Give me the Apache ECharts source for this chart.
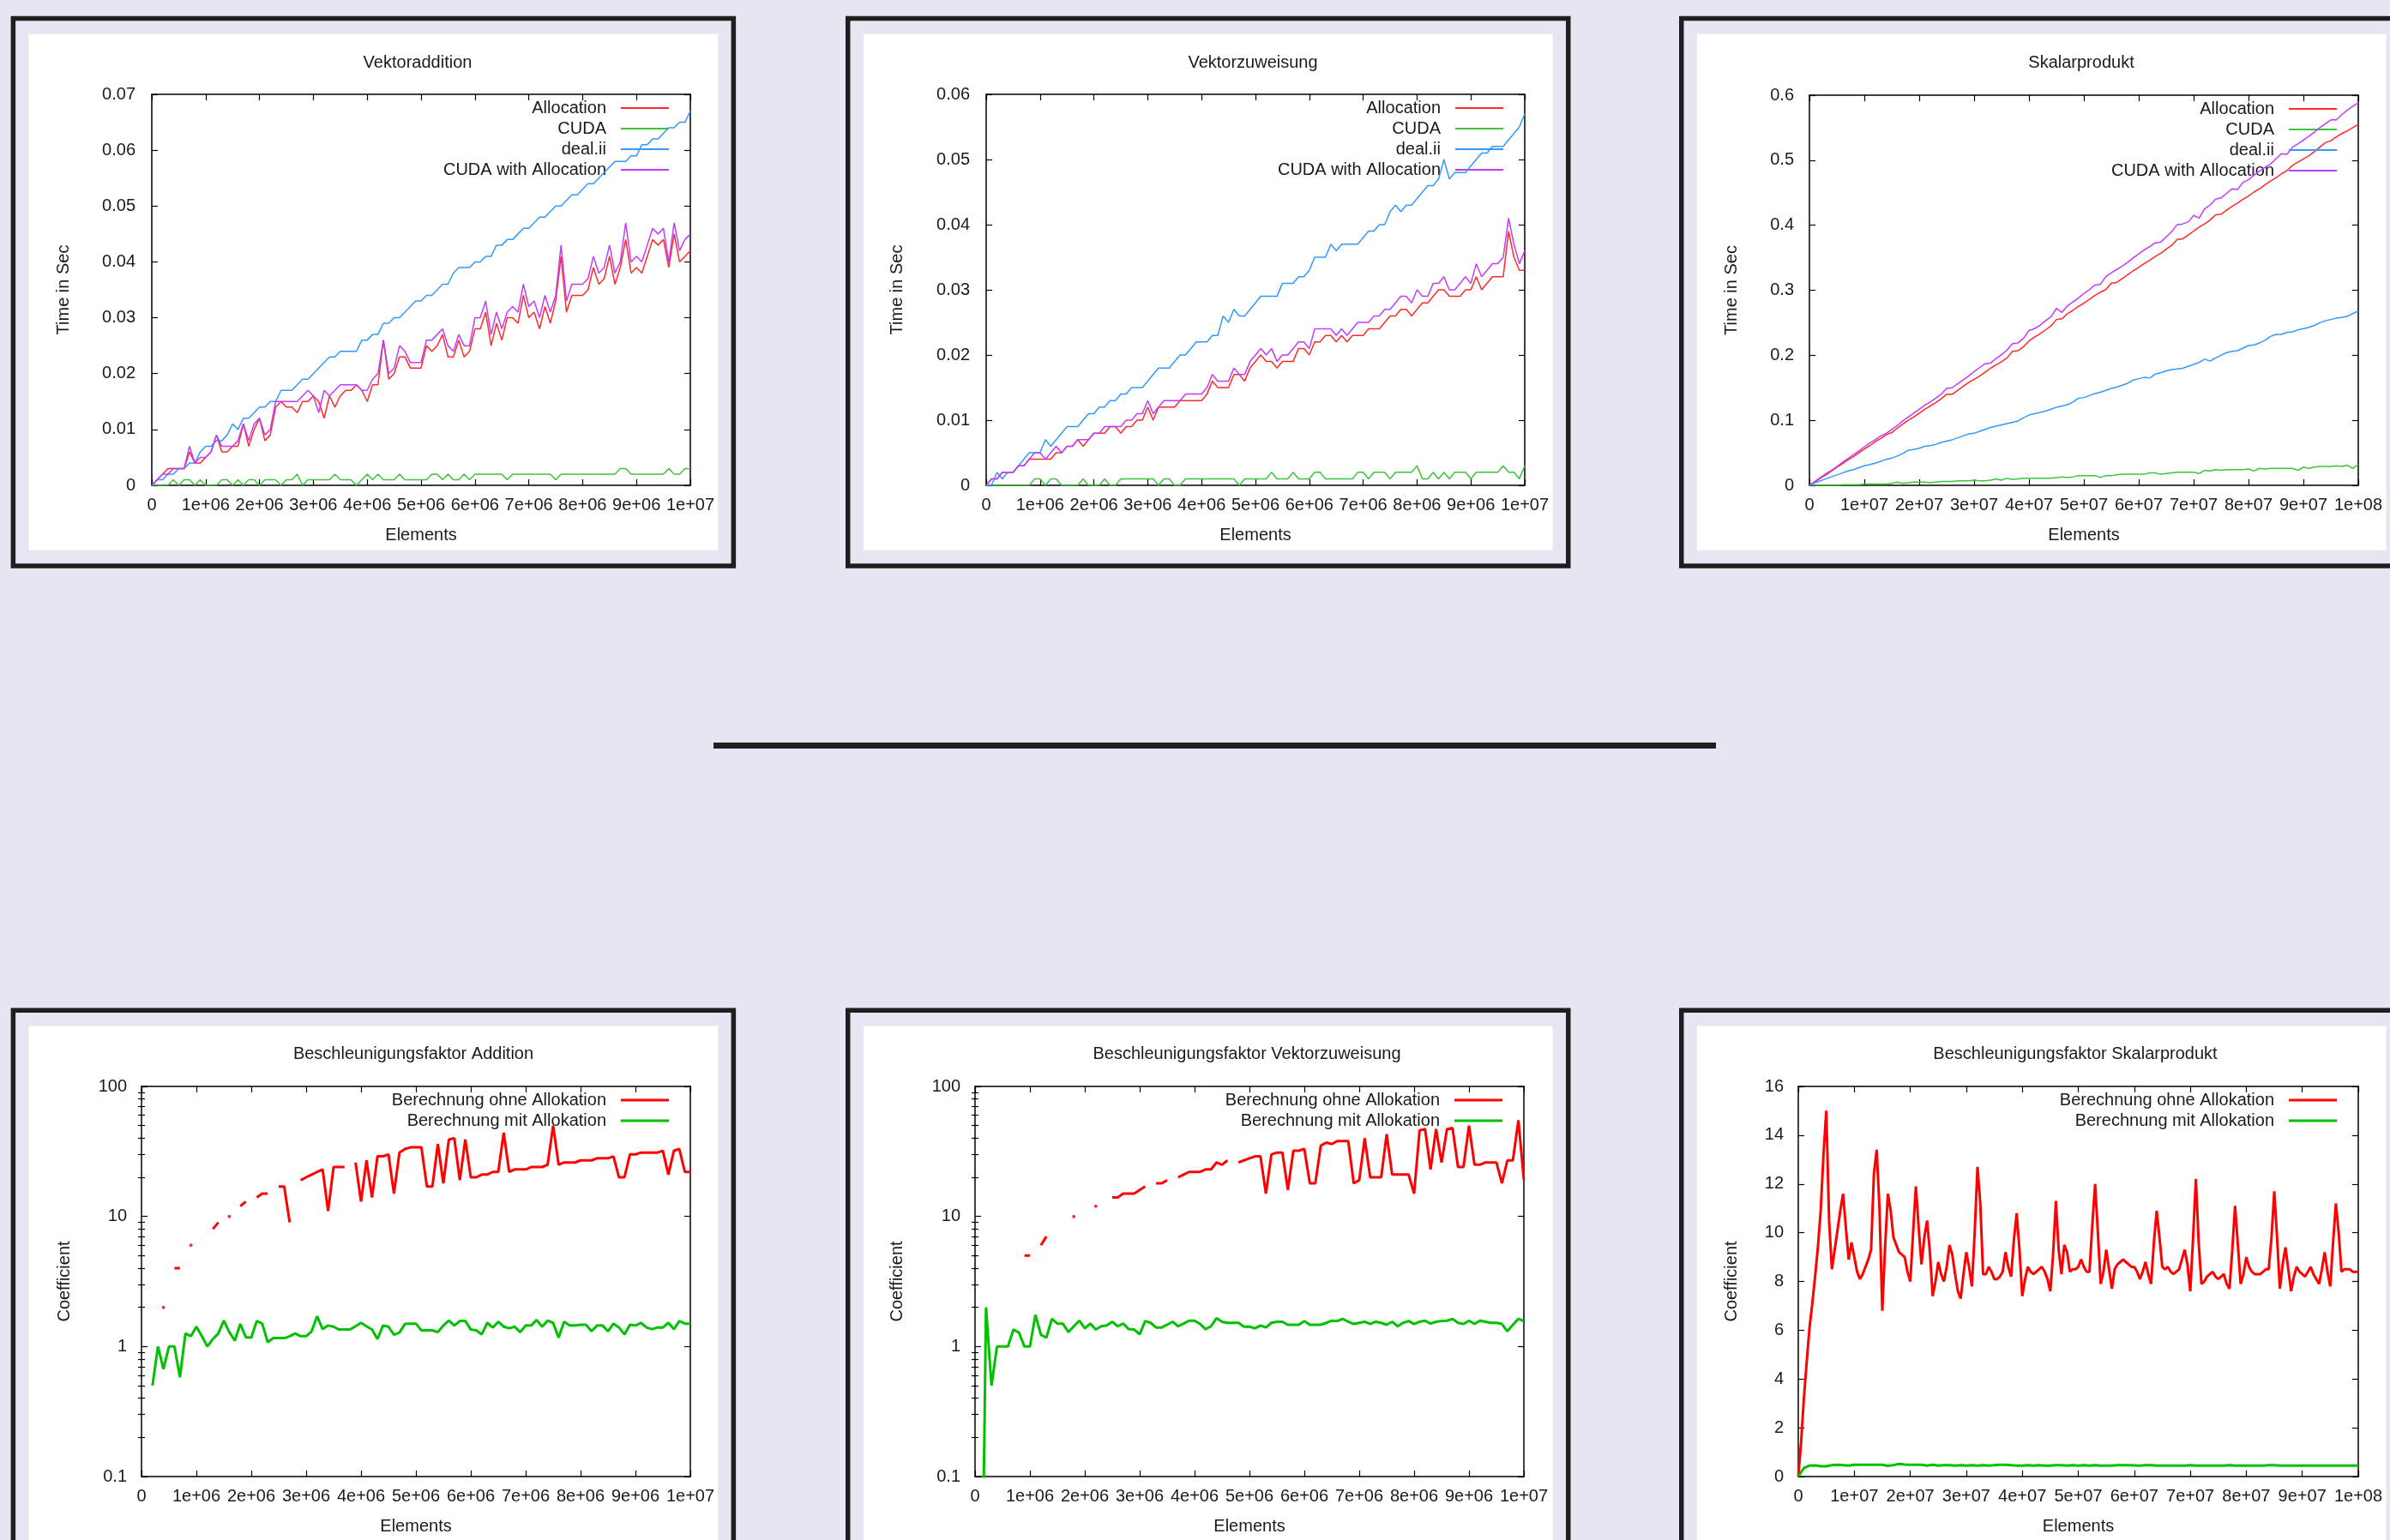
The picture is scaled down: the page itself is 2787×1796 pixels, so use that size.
<!DOCTYPE html>
<html>
<head>
<meta charset="utf-8">
<style>
html,body{margin:0;padding:0;background:#e6e6f2;}
#c{width:2787px;height:1796px;}
</style>
<script src="https://cdn.jsdelivr.net/npm/echarts@6/dist/echarts.min.js"></script>
</head>
<body>
<div id="c"></div>
<script>
// ---------------- DATA ----------------
const chartTitles = ['Vektoraddition', 'Vektorzuweisung', 'Skalarprodukt',
  'Beschleunigungsfaktor Addition', 'Beschleunigungsfaktor Vektorzuweisung', 'Beschleunigungsfaktor Skalarprodukt'];
const timeSeriesNames = ['Allocation', 'CUDA', 'deal.ii', 'CUDA with Allocation'];
const speedSeriesNames = ['Berechnung ohne Allokation', 'Berechnung mit Allokation'];
const xTickLabelsE6 = ['0', '1e+06', '2e+06', '3e+06', '4e+06', '5e+06', '6e+06', '7e+06', '8e+06', '9e+06', '1e+07'];
const xTickLabelsE7 = ['0', '1e+07', '2e+07', '3e+07', '4e+07', '5e+07', '6e+07', '7e+07', '8e+07', '9e+07', '1e+08'];

// Vektoraddition (seconds), elements 0..1e7 step 1e5
const addAllocation = [0,0.001,0.002,0.003,0.003,0.003,0.003,0.006,0.004,0.004,0.005,
 0.006,0.009,0.006,0.006,0.007,0.007,0.011,0.007,0.010,0.012,
 0.008,0.009,0.014,0.015,0.014,0.014,0.013,0.015,0.015,0.016,
 0.015,0.012,0.016,0.014,0.016,0.017,0.017,0.018,0.017,0.015,
 0.018,0.018,0.026,0.019,0.020,0.023,0.023,0.021,0.021,0.021,
 0.025,0.024,0.025,0.027,0.023,0.023,0.026,0.023,0.024,0.028,
 0.028,0.031,0.025,0.029,0.026,0.030,0.030,0.029,0.034,0.030,
 0.031,0.028,0.032,0.029,0.033,0.041,0.031,0.034,0.034,0.034,
 0.035,0.039,0.036,0.037,0.041,0.036,0.039,0.044,0.038,0.039,
 0.038,0.041,0.044,0.043,0.044,0.039,0.045,0.040,0.041,0.042];
const addCuda = [0,0,0,0,0.001,0,0.001,0.001,0,0.001,0,
 0,0,0.001,0.001,0,0.001,0,0.001,0.001,0,
 0.001,0.001,0.001,0,0.001,0.001,0.002,0,0.001,0.001,
 0.001,0.001,0.001,0.002,0.001,0.001,0.001,0,0.001,0.002,
 0.001,0.002,0.001,0.001,0.001,0.002,0.001,0.001,0.001,0.001,
 0.001,0.002,0.002,0.001,0.002,0.001,0.001,0.002,0.001,0.002,
 0.002,0.002,0.002,0.002,0.002,0.001,0.002,0.002,0.002,0.002,
 0.002,0.002,0.002,0.002,0.001,0.002,0.002,0.002,0.002,0.002,
 0.002,0.002,0.002,0.002,0.002,0.002,0.003,0.003,0.002,0.002,
 0.002,0.002,0.002,0.002,0.002,0.003,0.002,0.002,0.003,0.003];
const addDealii = [0,0.001,0.001,0.002,0.002,0.003,0.003,0.004,0.004,0.006,0.007,
 0.007,0.008,0.008,0.009,0.011,0.010,0.012,0.012,0.013,0.014,
 0.014,0.015,0.015,0.017,0.017,0.017,0.018,0.019,0.019,0.020,
 0.021,0.022,0.023,0.023,0.024,0.024,0.024,0.024,0.026,0.026,
 0.027,0.027,0.029,0.029,0.030,0.030,0.031,0.032,0.033,0.033,
 0.034,0.034,0.035,0.036,0.036,0.038,0.039,0.039,0.039,0.040,
 0.040,0.041,0.041,0.043,0.043,0.044,0.044,0.045,0.046,0.046,
 0.047,0.048,0.048,0.049,0.050,0.050,0.051,0.052,0.052,0.053,
 0.054,0.054,0.055,0.056,0.057,0.058,0.058,0.058,0.059,0.059,
 0.061,0.061,0.062,0.062,0.063,0.064,0.064,0.065,0.065,0.067];
const addCudaAlloc = [0,0.001,0.002,0.002,0.003,0.003,0.003,0.007,0.004,0.005,0.005,
 0.006,0.009,0.007,0.007,0.007,0.008,0.011,0.008,0.011,0.012,
 0.009,0.010,0.015,0.015,0.015,0.015,0.015,0.016,0.017,0.016,
 0.013,0.017,0.016,0.017,0.018,0.018,0.018,0.018,0.017,0.017,
 0.019,0.020,0.026,0.020,0.021,0.025,0.024,0.022,0.022,0.022,
 0.026,0.026,0.027,0.028,0.025,0.024,0.027,0.025,0.025,0.030,
 0.030,0.033,0.027,0.031,0.028,0.031,0.032,0.031,0.036,0.032,
 0.033,0.030,0.034,0.031,0.034,0.043,0.033,0.036,0.036,0.036,
 0.037,0.041,0.038,0.039,0.043,0.038,0.040,0.047,0.040,0.041,
 0.040,0.043,0.046,0.045,0.046,0.040,0.047,0.042,0.044,0.045];

// Vektorzuweisung (seconds), elements 0..1e7 step 1e5
const assignAllocation = [0,0.001,0.001,0.002,0.002,0.002,0.003,0.003,0.004,0.004,0.004,
 0.004,0.004,0.005,0.005,0.006,0.006,0.007,0.006,0.007,0.008,
 0.008,0.008,0.009,0.009,0.008,0.009,0.009,0.010,0.010,0.012,
 0.010,0.012,0.012,0.012,0.012,0.013,0.013,0.013,0.013,0.013,
 0.014,0.016,0.015,0.015,0.015,0.017,0.017,0.016,0.018,0.019,
 0.020,0.019,0.019,0.018,0.019,0.019,0.019,0.021,0.021,0.020,
 0.022,0.022,0.023,0.023,0.022,0.023,0.022,0.023,0.023,0.023,
 0.024,0.024,0.024,0.025,0.026,0.026,0.027,0.027,0.026,0.027,
 0.028,0.028,0.029,0.030,0.030,0.029,0.029,0.029,0.030,0.030,
 0.032,0.030,0.031,0.032,0.032,0.032,0.039,0.035,0.033,0.033];
const assignCuda = [0,0,0,0,0,0,0,0,0,0.001,0.001,
 0,0.001,0.001,0,0,0,0,0.001,0,0,
 0,0.001,0,0,0.001,0.001,0.001,0.001,0.001,0.001,
 0.001,0,0.001,0.001,0,0,0.001,0.001,0.001,0.001,
 0.001,0.001,0.001,0.001,0.001,0.001,0,0.001,0.001,0.001,
 0.001,0.001,0.002,0.001,0.001,0.001,0.002,0.001,0.001,0.001,
 0.002,0.002,0.001,0.001,0.001,0.001,0.001,0.001,0.002,0.002,
 0.001,0.002,0.002,0.002,0.001,0.002,0.002,0.002,0.002,0.003,
 0.001,0.001,0.002,0.001,0.002,0.001,0.002,0.002,0.002,0.001,
 0.002,0.002,0.002,0.002,0.002,0.003,0.002,0.002,0.001,0.003];
const assignDealii = [0,0,0.002,0.001,0.002,0.002,0.003,0.004,0.005,0.005,0.005,
 0.007,0.006,0.007,0.008,0.009,0.009,0.009,0.010,0.011,0.011,
 0.012,0.012,0.013,0.013,0.014,0.014,0.015,0.015,0.015,0.016,
 0.017,0.018,0.018,0.018,0.019,0.020,0.020,0.021,0.022,0.022,
 0.022,0.023,0.023,0.026,0.025,0.027,0.026,0.026,0.027,0.028,
 0.029,0.029,0.029,0.029,0.031,0.031,0.031,0.032,0.032,0.033,
 0.035,0.035,0.035,0.037,0.036,0.037,0.037,0.037,0.037,0.038,
 0.039,0.039,0.040,0.040,0.042,0.043,0.042,0.043,0.043,0.044,
 0.045,0.046,0.046,0.047,0.050,0.047,0.048,0.048,0.048,0.049,
 0.050,0.051,0.051,0.052,0.052,0.052,0.053,0.054,0.055,0.057];
const assignCudaAlloc = [0,0.001,0.001,0.002,0.002,0.002,0.003,0.003,0.004,0.005,0.005,
 0.004,0.005,0.006,0.005,0.006,0.006,0.007,0.007,0.007,0.008,
 0.008,0.009,0.009,0.009,0.009,0.010,0.010,0.011,0.011,0.013,
 0.011,0.012,0.013,0.013,0.013,0.013,0.014,0.014,0.014,0.014,
 0.015,0.017,0.016,0.016,0.016,0.018,0.017,0.017,0.019,0.020,
 0.021,0.020,0.021,0.019,0.020,0.020,0.021,0.022,0.022,0.021,
 0.024,0.024,0.024,0.024,0.023,0.024,0.023,0.024,0.025,0.025,
 0.025,0.026,0.026,0.027,0.027,0.028,0.029,0.029,0.028,0.030,
 0.029,0.029,0.031,0.031,0.032,0.030,0.030,0.031,0.032,0.031,
 0.034,0.032,0.033,0.034,0.034,0.035,0.041,0.037,0.034,0.036];

// Skalarprodukt (seconds), elements 0..1e8 step 1e6
const dotAllocation = [0,0.005,0.011,0.016,0.022,0.028,0.033,0.039,0.044,0.050,0.056,
 0.061,0.067,0.072,0.078,0.081,0.088,0.094,0.100,0.105,0.111,
 0.117,0.122,0.127,0.133,0.140,0.140,0.146,0.152,0.158,0.163,
 0.168,0.174,0.180,0.185,0.190,0.196,0.206,0.207,0.213,0.222,
 0.228,0.233,0.239,0.245,0.255,0.256,0.264,0.269,0.275,0.280,
 0.286,0.292,0.297,0.301,0.311,0.312,0.318,0.324,0.330,0.335,
 0.341,0.346,0.352,0.357,0.363,0.369,0.378,0.379,0.385,0.391,
 0.397,0.402,0.408,0.416,0.417,0.423,0.429,0.434,0.440,0.445,
 0.451,0.456,0.462,0.468,0.473,0.479,0.484,0.492,0.497,0.502,
 0.507,0.513,0.520,0.527,0.530,0.536,0.541,0.545,0.550,0.555];
const dotCuda = [0,0,0,0,0,0,0.001,0.001,0.001,0.001,0.002,
 0.002,0.002,0.002,0.002,0.003,0.005,0.003,0.004,0.005,0.005,
 0.005,0.004,0.005,0.006,0.006,0.006,0.007,0.007,0.007,0.008,
 0.007,0.007,0.008,0.010,0.008,0.011,0.009,0.010,0.011,0.011,
 0.011,0.011,0.011,0.011,0.012,0.013,0.012,0.013,0.015,0.015,
 0.015,0.015,0.012,0.015,0.015,0.016,0.017,0.017,0.017,0.017,
 0.017,0.019,0.019,0.017,0.018,0.019,0.020,0.020,0.020,0.020,
 0.018,0.023,0.022,0.024,0.023,0.024,0.024,0.024,0.024,0.025,
 0.022,0.026,0.025,0.026,0.026,0.026,0.026,0.026,0.023,0.028,
 0.026,0.028,0.029,0.029,0.029,0.030,0.029,0.031,0.026,0.032];
const dotDealii = [0,0.004,0.007,0.010,0.013,0.016,0.019,0.022,0.024,0.027,0.030,
 0.032,0.034,0.037,0.040,0.042,0.045,0.049,0.054,0.055,0.057,
 0.060,0.061,0.063,0.066,0.068,0.070,0.073,0.076,0.079,0.080,
 0.083,0.086,0.089,0.091,0.093,0.095,0.097,0.099,0.104,0.108,
 0.110,0.112,0.114,0.117,0.120,0.122,0.124,0.128,0.134,0.135,
 0.138,0.141,0.143,0.146,0.149,0.151,0.154,0.157,0.162,0.164,
 0.166,0.165,0.171,0.173,0.176,0.178,0.179,0.180,0.183,0.186,
 0.189,0.194,0.191,0.196,0.200,0.204,0.206,0.207,0.211,0.215,
 0.216,0.219,0.223,0.229,0.232,0.232,0.235,0.236,0.239,0.241,
 0.243,0.246,0.250,0.253,0.255,0.257,0.258,0.260,0.264,0.268];
const dotCudaAlloc = [0,0.006,0.012,0.018,0.023,0.029,0.035,0.041,0.047,0.053,0.059,
 0.065,0.070,0.076,0.080,0.086,0.092,0.099,0.105,0.111,0.117,
 0.123,0.128,0.134,0.140,0.149,0.150,0.156,0.162,0.168,0.175,
 0.181,0.187,0.188,0.195,0.201,0.208,0.218,0.219,0.226,0.238,
 0.241,0.246,0.253,0.259,0.272,0.266,0.276,0.282,0.288,0.295,
 0.301,0.308,0.309,0.321,0.327,0.332,0.337,0.343,0.350,0.356,
 0.362,0.367,0.373,0.374,0.382,0.390,0.401,0.402,0.405,0.415,
 0.411,0.425,0.431,0.440,0.442,0.449,0.456,0.455,0.466,0.470,
 0.477,0.483,0.489,0.494,0.502,0.510,0.509,0.520,0.525,0.531,
 0.537,0.543,0.550,0.556,0.562,0.562,0.570,0.577,0.583,0.588];

// Beschleunigungsfaktor Addition, elements 0..1e7 step 1e5 (null = undefined ratio)
const speedAddOhne = [null,null,null,null,2,null,4,4,null,6,null,
 null,null,8,9,null,10,null,12,13,null,
 14,15,15,null,17,17,9,null,19,20,
 21,22,23,11,24,24,24,null,26,13,
 27,14,29,29,30,15,31,33,34,34,
 34,17,17,36,18,39,40,19,39,20,
 20,21,21,22,22,44,22,23,23,23,
 24,24,24,25,50,25,26,26,26,27,
 27,27,28,28,28,29,20,20,30,30,
 31,31,31,31,32,21,32,33,22,22];
const speedAddMit = [null,null,0.5,1.0,0.67,1.0,1.0,0.58,1.26,1.2,1.42,
 1.2,1.0,1.14,1.26,1.58,1.29,1.11,1.49,1.18,1.17,
 1.57,1.5,1.08,1.16,1.16,1.16,1.2,1.26,1.2,1.2,
 1.31,1.71,1.36,1.45,1.42,1.35,1.35,1.35,1.43,1.52,
 1.43,1.35,1.14,1.45,1.42,1.23,1.28,1.49,1.5,1.5,
 1.33,1.33,1.33,1.29,1.45,1.58,1.45,1.57,1.57,1.35,
 1.33,1.24,1.52,1.4,1.55,1.42,1.38,1.42,1.29,1.45,
 1.45,1.6,1.42,1.58,1.52,1.17,1.55,1.45,1.45,1.47,
 1.47,1.31,1.45,1.45,1.31,1.5,1.4,1.24,1.47,1.45,
 1.52,1.4,1.36,1.4,1.4,1.52,1.36,1.57,1.5,1.5];

// Beschleunigungsfaktor Vektorzuweisung, elements 0..1e7 step 1e5
const speedAssignOhne = [null,null,null,null,null,null,null,null,null,5,5,
 null,6,7,null,null,null,null,10,null,null,
 null,12,null,null,14,14,15,15,15,16,
 17,null,18,18,19,null,20,21,22,22,
 22,23,23,26,25,27,null,26,27,28,
 29,29,15,30,31,31,16,32,32,33,
 18,18,35,37,36,38,38,38,18,19,
 40,20,20,20,43,21,21,21,21,15,
 46,47,23,47,26,47,48,24,24,50,
 25,25,26,26,26,18,27,27,55,19];
const speedAssignMit = [null,0.001,2.0,0.5,1.0,1.0,1.0,1.35,1.28,1.0,1.0,
 1.75,1.23,1.17,1.63,1.5,1.5,1.29,1.43,1.58,1.38,
 1.5,1.35,1.43,1.45,1.55,1.43,1.5,1.36,1.35,1.24,
 1.57,1.52,1.4,1.4,1.47,1.55,1.43,1.5,1.58,1.58,
 1.49,1.36,1.43,1.65,1.55,1.52,1.52,1.52,1.42,1.42,
 1.38,1.45,1.4,1.52,1.55,1.55,1.47,1.47,1.47,1.57,
 1.47,1.47,1.47,1.52,1.58,1.57,1.63,1.55,1.49,1.52,
 1.55,1.49,1.55,1.52,1.47,1.55,1.43,1.52,1.57,1.49,
 1.55,1.58,1.5,1.55,1.57,1.58,1.63,1.52,1.49,1.58,
 1.49,1.58,1.55,1.52,1.52,1.49,1.31,1.47,1.63,1.57];

// Beschleunigungsfaktor Skalarprodukt: ohne (step 5e5), mit (step 1e6)
const speedDotOhne = [0,1.4,3.2,4.7,6.1,7.1,8.2,9.4,10.9,13.2,15.0,
 10.5,8.5,9.3,10.1,10.9,11.6,10.2,8.9,9.6,9.0,
 8.4,8.1,8.3,8.6,8.9,9.3,12.4,13.4,11.0,6.8,
 9.4,11.6,10.9,9.8,9.5,9.2,9.1,9.0,8.4,8.0,
 10.0,11.9,10.2,8.7,9.8,10.5,9.2,7.4,8.0,8.8,
 8.3,8.0,8.6,9.5,9.1,8.3,7.6,7.3,8.3,9.2,
 8.6,7.8,10.0,12.7,11.2,8.3,8.3,8.6,8.4,8.1,
 8.1,8.2,8.4,9.2,8.6,8.2,9.7,10.8,9.3,7.4,
 8.1,8.6,8.4,8.3,8.4,8.5,8.6,8.4,8.1,7.6,
 9.1,11.3,9.3,8.3,9.5,9.2,8.4,8.5,8.5,8.6,
 8.9,8.6,8.4,8.4,10.3,12.0,10.0,7.9,8.4,9.3,
 8.5,7.7,8.5,8.7,8.8,8.9,8.8,8.7,8.6,8.6,
 8.4,8.1,8.4,8.8,8.3,7.9,9.6,10.9,9.8,8.6,
 8.5,8.6,8.4,8.3,8.4,8.5,8.9,9.3,8.7,7.6,
 9.8,12.2,9.6,7.9,8.0,8.2,8.3,8.4,8.2,8.1,
 8.2,8.3,7.9,7.7,9.3,11.1,9.5,7.9,8.3,9.0,
 8.6,8.4,8.3,8.3,8.3,8.4,8.5,8.5,9.8,11.7,
 9.8,7.7,8.7,9.4,8.5,7.6,8.2,8.6,8.4,8.3,
 8.2,8.4,8.6,8.3,8.1,7.9,8.5,9.2,8.4,7.8,
 9.6,11.2,10.0,8.4,8.5,8.5,8.5,8.4,8.4,8.4];
const speedDotMit = [0,0.35,0.45,0.46,0.42,0.42,0.47,0.48,0.47,0.45,0.48,
 0.48,0.48,0.48,0.48,0.48,0.44,0.47,0.52,0.49,0.48,
 0.48,0.48,0.45,0.48,0.45,0.47,0.47,0.45,0.47,0.45,
 0.47,0.45,0.47,0.45,0.47,0.48,0.48,0.47,0.45,0.45,
 0.47,0.45,0.47,0.45,0.45,0.47,0.47,0.45,0.47,0.45,
 0.47,0.45,0.47,0.45,0.45,0.45,0.47,0.47,0.47,0.46,
 0.45,0.47,0.47,0.45,0.45,0.45,0.45,0.45,0.45,0.47,
 0.45,0.45,0.45,0.45,0.45,0.45,0.47,0.45,0.45,0.45,
 0.45,0.45,0.45,0.47,0.47,0.45,0.45,0.45,0.45,0.45,
 0.45,0.45,0.45,0.45,0.45,0.45,0.45,0.45,0.45,0.45];

// ---------------- LAYOUT / STYLE ----------------
const W = 2787, H = 1796;
const FONT = "'Liberation Sans', Arial, Helvetica, sans-serif";
const TXT = '#1a1a1a';
const timeColors = ['#ff2a2a', '#3cc43c', '#3399ff', '#c13cff'];
const speedColors = ['#ff0000', '#00c000'];

const panels = [
  {grid:{left:177, top:110, width:628, height:456}, titleX:487, titleY:62, nameGap:93, labelMargin:19,
   title:chartTitles[0], kind:'time', xMax:1e7, xLabels:xTickLabelsE6, yMax:0.07, yStep:0.01, yName:'Time in Sec',
   series:[[addAllocation,1e5],[addCuda,1e5],[addDealii,1e5],[addCudaAlloc,1e5]]},
  {grid:{left:1150, top:110, width:628, height:456}, titleX:1461, titleY:62, nameGap:94, labelMargin:19,
   title:chartTitles[1], kind:'time', xMax:1e7, xLabels:xTickLabelsE6, yMax:0.06, yStep:0.01, yName:'Time in Sec',
   series:[[assignAllocation,1e5],[assignCuda,1e5],[assignDealii,1e5],[assignCudaAlloc,1e5]]},
  {grid:{left:2110, top:111, width:640, height:455}, titleX:2427, titleY:62, nameGap:81, labelMargin:18,
   title:chartTitles[2], kind:'time', xMax:1e8, xLabels:xTickLabelsE7, yMax:0.6, yStep:0.1, yName:'Time in Sec',
   series:[[dotAllocation,1e6],[dotCuda,1e6],[dotDealii,1e6],[dotCudaAlloc,1e6]]},
  {grid:{left:165, top:1267, width:640, height:455}, titleX:482, titleY:1218, nameGap:80, labelMargin:17,
   title:chartTitles[3], kind:'log', xMax:1e7, xLabels:xTickLabelsE6, yName:'Coefficient',
   series:[[speedAddOhne,1e5],[speedAddMit,1e5]]},
  {grid:{left:1137, top:1267, width:640, height:455}, titleX:1454, titleY:1218, nameGap:81, labelMargin:17,
   title:chartTitles[4], kind:'log', xMax:1e7, xLabels:xTickLabelsE6, yName:'Coefficient',
   series:[[speedAssignOhne,1e5],[speedAssignMit,1e5]]},
  {grid:{left:2097, top:1267, width:653, height:455}, titleX:2420, titleY:1218, nameGap:68, labelMargin:17,
   title:chartTitles[5], kind:'lin', xMax:1e8, xLabels:xTickLabelsE7, yMax:16, yStep:2, yName:'Coefficient',
   series:[[speedDotOhne,5e5],[speedDotMit,1e6]]}
];

const minorLogTicks = [];
[-1, 0, 1].forEach(d => { for (let k = 2; k <= 9; k++) minorLogTicks.push(d + Math.log10(k)); });

const grids = [], xAxes = [], yAxes = [], series = [], legends = [], titles = [];
const axisLine = {onZero:false, lineStyle:{color:'#000', width:1.5}};
const tickStyle = {color:'#000', width:1.2};
const nameStyle = {fontSize:20, color:TXT, fontFamily:FONT};

panels.forEach((p, gi) => {
  grids.push(Object.assign({containLabel:false}, p.grid));
  const step = p.xMax / 10;
  const labels = p.xLabels;
  const xBase = {gridIndex:gi, type:'value', min:0, max:p.xMax, interval:step,
    splitLine:{show:false}, axisLine:axisLine, axisTick:{inside:true, length:7, lineStyle:tickStyle}};
  const xi = xAxes.length;
  xAxes.push(Object.assign({}, xBase, {position:'bottom', name:'Elements', nameLocation:'middle', nameGap:48,
    nameTextStyle:nameStyle,
    axisLabel:{margin:13, fontSize:20, color:TXT, fontFamily:FONT, formatter:v => labels[Math.round(v / step)]}}));
  xAxes.push(Object.assign({}, xBase, {position:'top', axisLabel:{show:false}}));

  const yi = yAxes.length;
  let yBase;
  if (p.kind === 'log') {
    yBase = {gridIndex:gi, type:'log', logBase:10, min:0.1, max:100, splitLine:{show:false},
      axisLine:axisLine, axisTick:{inside:true, length:7, lineStyle:tickStyle}};
  } else {
    yBase = {gridIndex:gi, type:'value', min:0, max:p.yMax, interval:p.yStep, splitLine:{show:false},
      axisLine:axisLine, axisTick:{inside:true, length:7, lineStyle:tickStyle}};
  }
  yAxes.push(Object.assign({}, yBase, {position:'left', name:p.yName, nameLocation:'middle', nameGap:p.nameGap,
    nameTextStyle:nameStyle,
    axisLabel:{margin:p.labelMargin, fontSize:20, color:TXT, fontFamily:FONT}}));
  yAxes.push(Object.assign({}, yBase, {position:'right', axisLabel:{show:false}}));
  if (p.kind === 'log') {
    ['left', 'right'].forEach(pos => {
      yAxes.push({gridIndex:gi, type:'value', min:-1, max:2, position:pos, splitLine:{show:false},
        axisLine:{show:false}, axisLabel:{show:false},
        axisTick:{show:true, inside:true, length:4, lineStyle:tickStyle, customValues:minorLogTicks}});
    });
  }

  const isTime = p.kind === 'time';
  const names = isTime ? timeSeriesNames : speedSeriesNames;
  const colors = isTime ? timeColors : speedColors;
  const lw = isTime ? 1.5 : 3;
  p.series.forEach(([vals, xs], k) => {
    series.push({type:'line', name:names[k], xAxisIndex:xi, yAxisIndex:yi,
      data:vals.map((v, i) => [i * xs, v == null ? '-' : v]),
      symbol:'none', showSymbol:false, connectNulls:false, clip:true,
      color:colors[k], itemStyle:{color:colors[k]},
      lineStyle:{color:colors[k], width:lw}, z:3 + k, animation:false});
    const iso = [];
    vals.forEach((v, i) => {
      if (v != null && (i === 0 || vals[i - 1] == null) && (i === vals.length - 1 || vals[i + 1] == null)) iso.push([i * xs, v]);
    });
    if (iso.length) {
      series.push({type:'scatter', name:names[k], xAxisIndex:xi, yAxisIndex:yi, data:iso,
        symbol:'circle', symbolSize:4, itemStyle:{color:colors[k]}, z:3 + k, animation:false});
    }
  });

  legends.push({orient:'vertical', align:'right', padding:0, selectedMode:false,
    right: W - (p.grid.left + p.grid.width - 25), top: p.grid.top + 5,
    icon:'rect', itemWidth:56, itemHeight:isTime ? 2 : 3, itemGap:2,
    data:names,
    textStyle:{fontSize:20, color:TXT, fontFamily:FONT, lineHeight:22, padding:[0, 12, 0, 0]}});

  titles.push({text:p.title, left:p.titleX, top:p.titleY, textAlign:'center', padding:0,
    textStyle:{fontSize:20, fontWeight:'normal', color:TXT, fontFamily:FONT, lineHeight:22}});
});

// decorative frames (gnuplot screenshots on a page)
const frameLefts = [12.6, 986, 1958];
const frameTops = [18.75, 1175.5];
const FW = 845.5, FH = 644, BW = 5.5, INSET = 21;
const graphics = [];
frameTops.forEach(t => frameLefts.forEach(l => {
  graphics.push({type:'rect', z:-10, shape:{x:l + INSET, y:t + INSET, width:FW - 2 * INSET, height:FH - 2 * INSET},
    style:{fill:'#ffffff'}});
  graphics.push({type:'rect', z:-9, shape:{x:l + BW / 2, y:t + BW / 2, width:FW - BW, height:FH - BW},
    style:{fill:'none', stroke:'#1e1e1e', lineWidth:BW}});
}));
graphics.push({type:'rect', z:-9, shape:{x:832, y:866, width:1169, height:7}, style:{fill:'#1e1e1e'}});

const chart = echarts.init(document.getElementById('c'), null, {renderer:'canvas', width:W, height:H});
chart.setOption({
  backgroundColor:'#e6e6f2',
  animation:false,
  textStyle:{fontFamily:FONT},
  title:titles,
  legend:legends,
  grid:grids,
  xAxis:xAxes,
  yAxis:yAxes,
  series:series,
  graphic:{elements:graphics}
});
</script>
</body>
</html>
